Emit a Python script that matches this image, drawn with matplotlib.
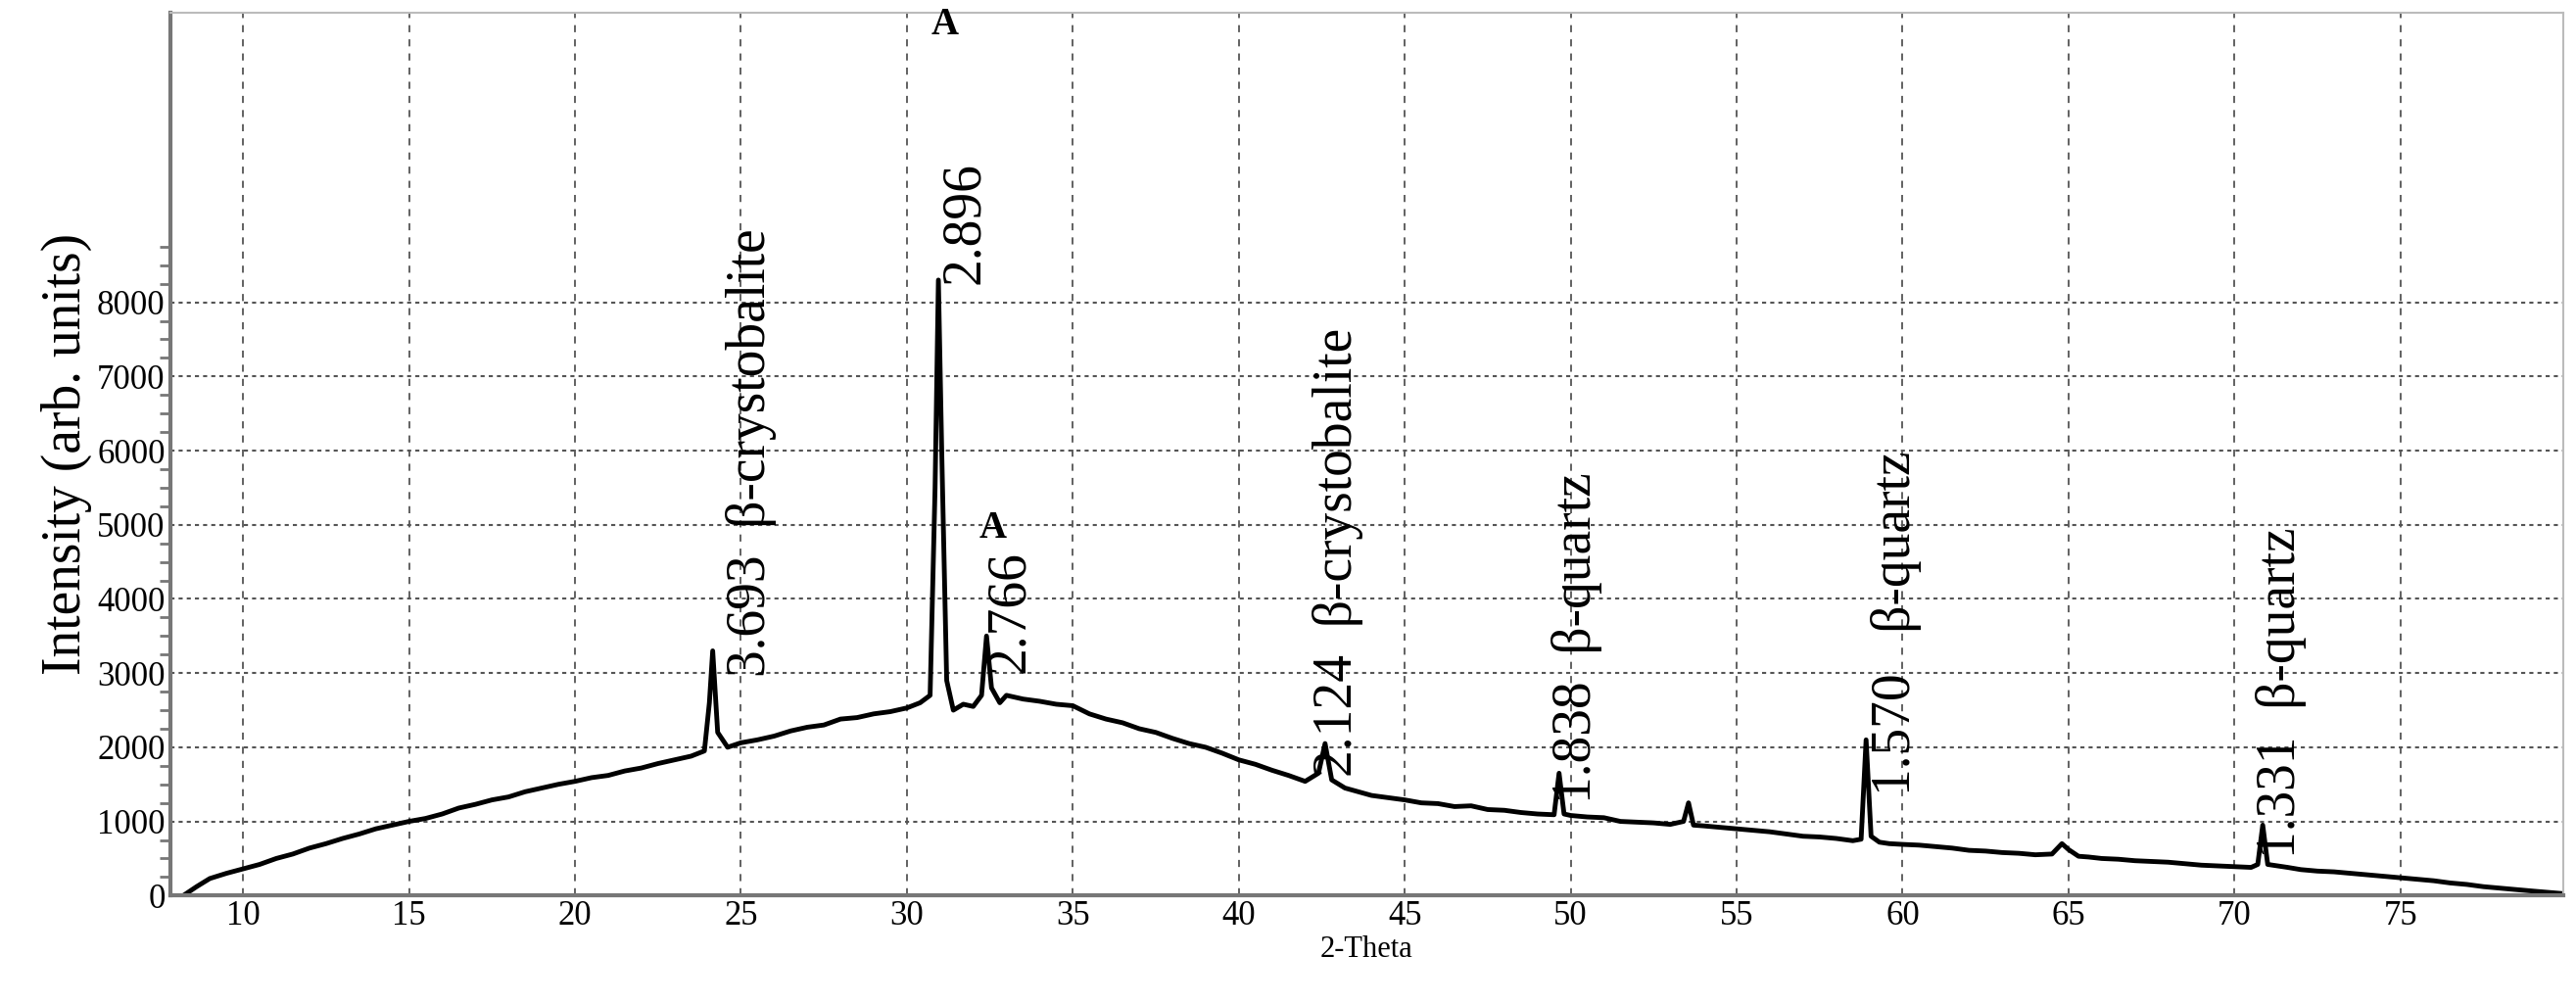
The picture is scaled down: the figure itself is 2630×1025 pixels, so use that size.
import matplotlib
matplotlib.use("Agg")
import matplotlib.pyplot as plt
import numpy as np

two_theta = [8.2, 8.6, 9.0, 9.5, 10.0, 10.5, 11.0, 11.5, 12.0, 12.5, 13.0, 13.5, 14.0, 14.5, 15.0,
             15.5, 16.0, 16.5, 17.0, 17.5, 18.0, 18.5, 19.0, 19.5, 20.0, 20.5, 21.0, 21.5, 22.0,
             22.5, 23.0, 23.5, 23.9, 24.05, 24.15, 24.3, 24.6, 25.0, 25.5, 26.0, 26.5, 27.0, 27.5,
             28.0, 28.5, 29.0, 29.5, 30.0, 30.4, 30.7, 30.85, 30.95, 31.05, 31.2, 31.4, 31.7, 32.0,
             32.25, 32.4, 32.55, 32.8, 33.0, 33.5, 34.0, 34.5, 35.0, 35.5, 36.0, 36.5, 37.0, 37.5,
             38.0, 38.5, 39.0, 39.5, 40.0, 40.5, 41.0, 41.5, 42.0, 42.4, 42.6, 42.8, 43.2, 43.6,
             44.0, 44.5, 45.0, 45.5, 46.0, 46.5, 47.0, 47.5, 48.0, 48.5, 49.0, 49.5, 49.65, 49.8,
             50.0, 50.5, 51.0, 51.5, 52.0, 52.5, 53.0, 53.4, 53.55, 53.7, 54.0, 54.5, 55.0, 55.5,
             56.0, 56.5, 57.0, 57.5, 58.0, 58.5, 58.75, 58.9, 59.05, 59.3, 59.6, 60.0, 60.5, 61.0,
             61.5, 62.0, 62.5, 63.0, 63.5, 64.0, 64.5, 64.8, 65.0, 65.3, 65.6, 66.0, 66.5, 67.0,
             67.5, 68.0, 68.5, 69.0, 69.5, 70.0, 70.5, 70.7, 70.85, 71.0, 71.3, 71.6, 72.0, 72.5,
             73.0, 73.5, 74.0, 74.5, 75.0, 75.5, 76.0, 76.5, 77.0, 77.5, 78.0, 78.5, 79.0, 79.8]
intensity = [0, 120, 230, 300, 360, 420, 500, 560, 640, 700, 770, 830, 900, 950, 1000,
             1040, 1100, 1180, 1230, 1290, 1330, 1400, 1450, 1500, 1540, 1590, 1620, 1680, 1720,
             1780, 1830, 1880, 1950, 2600, 3300, 2200, 2000, 2060, 2100, 2150, 2220, 2270, 2300,
             2380, 2400, 2450, 2480, 2530, 2600, 2700, 5500, 8300, 6000, 2900, 2500, 2580, 2550,
             2700, 3500, 2800, 2600, 2700, 2650, 2620, 2580, 2560, 2450, 2380, 2330, 2250, 2200,
             2120, 2050, 2000, 1920, 1830, 1770, 1690, 1620, 1540, 1650, 2050, 1560, 1450, 1400,
             1350, 1320, 1290, 1250, 1240, 1200, 1210, 1160, 1150, 1120, 1100, 1090, 1650, 1100,
             1080, 1060, 1050, 1000, 990, 980, 960, 1000, 1250, 950, 940, 920, 900, 880,
             860, 830, 800, 790, 770, 740, 760, 2100, 800, 720, 700, 690, 680, 660,
             640, 610, 600, 580, 570, 550, 560, 700, 620, 530, 520, 500, 490, 470,
             460, 450, 430, 410, 400, 390, 380, 420, 950, 420, 400, 380, 350, 330,
             320, 300, 280, 260, 240, 220, 200, 170, 150, 120, 100, 80, 60, 30]

major_ticks = [0, 1000, 2000, 3000, 4000, 5000, 6000, 7000, 8000]
x_ticks = [10, 15, 20, 25, 30, 35, 40, 45, 50, 55, 60, 65, 70, 75]

# label texts: (x, y_bottom, text)
labels = [(25.3, 2950, "3.693  β-crystobalite"),
          (31.75, 8250, "2.896"),
          (33.1, 3000, "2.766"),
          (43.0, 1600, "2.124  β-crystobalite"),
          (50.2, 1250, "1.838  β-quartz"),
          (59.8, 1350, "1.570   β-quartz"),
          (71.4, 500, "1.331  β-quartz")]
a_marks = [(31.15, 11500), (32.6, 4700)]

plt.rcParams['font.family'] = ['Liberation Serif', 'DejaVu Serif']
fig = plt.figure(figsize=(26.3, 10.25), dpi=100)
ax = fig.add_axes([0.066, 0.108, 0.929, 0.879])
ax.plot(two_theta, intensity, color='black', lw=3.5)
ax.set_xlim(7.8, 79.9)
ax.set_ylim(0, 11900)
ax.set_xticks(x_ticks)
ax.set_yticks(major_ticks)
ax.set_yticks(np.arange(0, 8800, 250), minor=True)
ax.tick_params(axis='both', labelsize=25, length=0, colors='black')
ax.tick_params(axis='y', which='minor', length=8, width=2, color='#777777')
for v in x_ticks:
    ax.axvline(v, color='#555555', ls=(0, (4, 4)), lw=1.3, zorder=0)
for v in major_ticks[1:]:
    ax.axhline(v, color='#555555', ls=(0, (2, 2)), lw=1.5, zorder=0)
for s in ['left', 'bottom']:
    ax.spines[s].set_color('#777777')
    ax.spines[s].set_linewidth(3)
for s in ['top', 'right']:
    ax.spines[s].set_color('#bbbbbb')
    ax.spines[s].set_linewidth(1.5)
ax.set_xlabel("2-Theta", fontsize=22, labelpad=2)
ax.set_ylabel("Intensity (arb. units)", fontsize=40, labelpad=4)
for x, y, t in labels:
    ax.text(x, y, t, rotation=90, ha='center', va='bottom', fontsize=40)
for x, y in a_marks:
    ax.text(x, y, "A", ha='center', va='bottom', fontsize=28, fontweight='bold')
fig.savefig("out.png", dpi=100)
